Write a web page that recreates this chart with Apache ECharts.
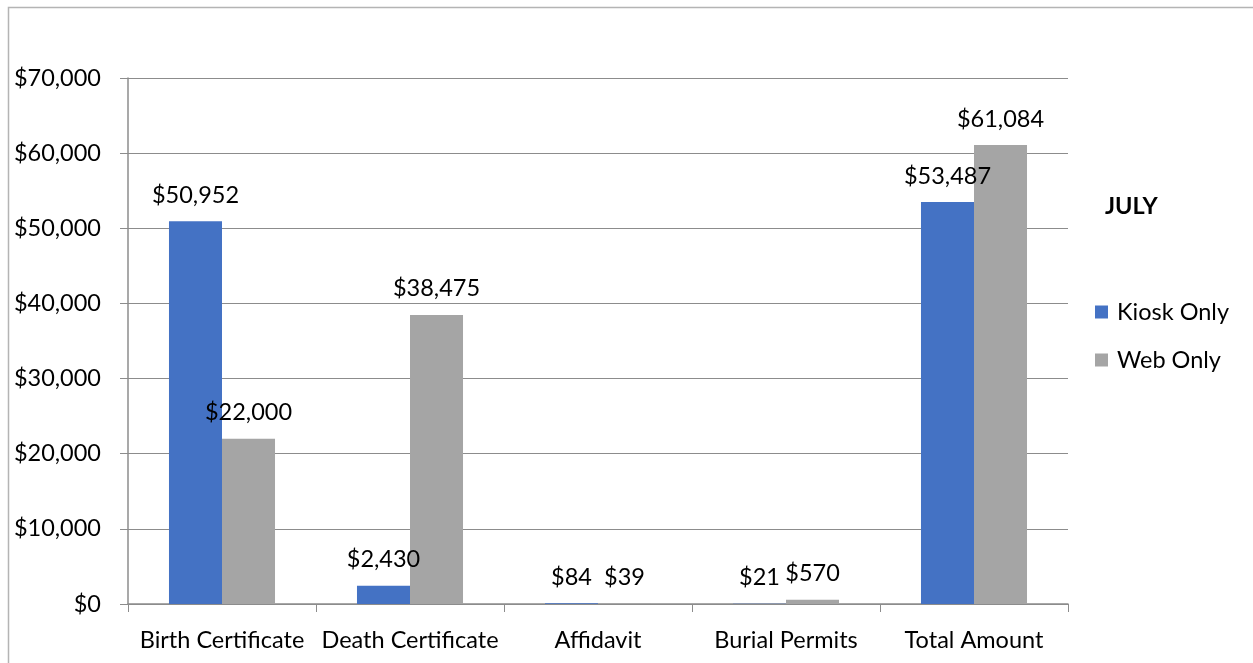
<!DOCTYPE html>
<html><head><meta charset="utf-8">
<script src="https://cdn.jsdelivr.net/npm/echarts@6/dist/echarts.min.js"></script>
<style>html,body{margin:0;padding:0;background:#fff}#c{width:1253px;height:663px}</style>
</head><body><div id="c"></div>
<script>
const categories = ['Birth Certificate','Death Certificate','Affidavit','Burial Permits','Total Amount'];
const kioskOnly = [50952, 2430, 84, 21, 53487];
const webOnly = [22000, 38475, 39, 570, 61084];
const seriesNames = ['Kiosk Only','Web Only'];
const chartTitle = 'JULY';

const FONT = 'Lato';
const FS = 23.5;
const fmt = v => '$' + Math.round(v).toLocaleString('en-US');
const chart = echarts.init(document.getElementById('c'), null, {renderer:'canvas'});
const labelCfg = {show:true, position:'top', distance:14, color:'#000', fontFamily:FONT, fontSize:FS, formatter:p=>fmt(p.value)};
chart.setOption({
  animation:false,
  textStyle:{fontFamily:FONT},
  graphic:[{type:'rect', shape:{x:8.5,y:7.5,width:1400,height:800}, style:{fill:'none', stroke:'#b4b4b4', lineWidth:1.5}, silent:true}],
  title:{text:chartTitle, left:1105, top:194, padding:0, textStyle:{fontFamily:FONT, fontSize:FS, fontWeight:'bold', color:'#000'}},
  legend:{orient:'vertical', left:1095, top:300, padding:0, itemWidth:13, itemHeight:13, itemGap:24, icon:'rect',
    textStyle:{fontFamily:FONT, fontSize:FS, color:'#000', padding:[0,0,0,4]}, data:seriesNames},
  grid:{left:128, right:185, top:78, bottom:59, containLabel:false},
  xAxis:{type:'category', data:categories,
    axisLine:{lineStyle:{color:'#8c8c8c', width:1.5}},
    axisTick:{show:true, length:8, inside:false, alignWithLabel:false, lineStyle:{color:'#8c8c8c'}},
    axisLabel:{color:'#000', fontFamily:FONT, fontSize:FS, margin:24, interval:0}},
  yAxis:{type:'value', min:0, max:70000, interval:10000,
    axisLine:{show:true, lineStyle:{color:'#8c8c8c', width:1.5}},
    axisTick:{show:true, length:8, lineStyle:{color:'#8c8c8c'}},
    axisLabel:{color:'#000', fontFamily:FONT, fontSize:FS, margin:27, formatter:fmt},
    splitLine:{lineStyle:{color:'#8c8c8c', width:1.2}}},
  series:[
    {name:seriesNames[0], type:'bar', data:kioskOnly, itemStyle:{color:'#4472C4'}, barGap:'0%', barCategoryGap:'43.6%', label:labelCfg},
    {name:seriesNames[1], type:'bar', data:webOnly, itemStyle:{color:'#A5A5A5'}, barGap:'0%', barCategoryGap:'43.6%', label:labelCfg}
  ]
});
</script></body></html>
